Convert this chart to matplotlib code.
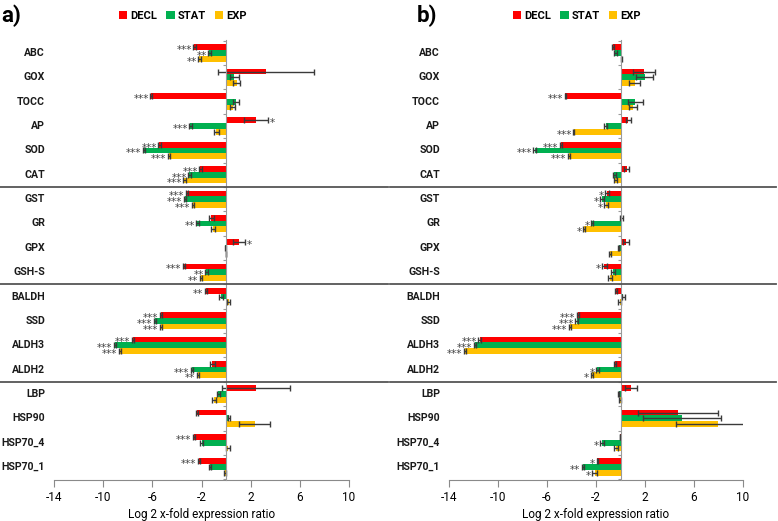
import matplotlib
matplotlib.use("Agg")
import matplotlib.pyplot as plt
import matplotlib.transforms as mtransforms
from matplotlib.patches import Patch

genes = ["ABC", "GOX", "TOCC", "AP", "SOD", "CAT", "GST", "GR", "GPX", "GSH-S",
         "BALDH", "SSD", "ALDH3", "ALDH2", "LBP", "HSP90", "HSP70_4", "HSP70_1"]
series = ["DECL", "STAT", "EXP"]
colors = ["#ff0000", "#00b050", "#ffc000"]

# Panel a)
a_decl = [-2.57, 3.25, -6.10, 2.44, -5.42, -2.09, -3.17, -1.19, 1.03, -3.44,
          -1.63, -5.28, -7.59, -1.14, 2.44, -2.38, -2.63, -2.22]
a_stat = [-1.36, 0.68, 0.80, -2.90, -6.69, -2.98, -3.33, -2.33, -0.05, -1.60,
          -0.43, -5.77, -9.02, -2.79, -0.62, 0.22, -2.00, -1.30]
a_exp = [-2.17, 0.87, 0.54, -0.81, -4.66, -3.39, -2.71, -1.08, 0.0, -2.06,
         0.20, -5.31, -8.62, -2.30, -0.98, 2.33, 0.14, -0.10]
a_decl_err = [0.1, 3.9, 0.05, 1.0, 0.1, 0.1, 0.1, 0.2, 0.5, 0.1,
              0.1, 0.1, 0.1, 0.2, 2.8, 0.1, 0.1, 0.1]
a_stat_err = [0.1, 0.35, 0.25, 0.1, 0.1, 0.1, 0.1, 0.1, 0.05, 0.1,
              0.15, 0.1, 0.1, 0.1, 0.15, 0.1, 0.1, 0.1]
a_exp_err = [0.1, 0.3, 0.2, 0.2, 0.1, 0.1, 0.1, 0.15, 0.0, 0.1,
             0.15, 0.1, 0.1, 0.1, 0.15, 1.25, 0.15, 0.1]
a_decl_sig = ["***", "", "***", "*", "***", "***", "***", "", "*", "***",
              "**", "***", "***", "", "", "", "***", "***"]
a_stat_sig = ["**", "", "", "***", "***", "***", "***", "**", "", "**",
              "", "***", "***", "***", "", "", "", ""]
a_exp_sig = ["**", "", "", "", "***", "***", "***", "", "", "**",
             "", "***", "***", "**", "", "", "", ""]

# Panel b)
b_decl = [-0.63, 1.93, -4.49, 0.63, -4.84, 0.52, -1.12, 0.08, 0.46, -1.31,
          -0.38, -3.46, -11.51, -0.46, 0.87, 4.71, -0.03, -1.90]
b_stat = [-0.41, 1.99, 1.22, -1.22, -7.02, -0.49, -1.50, -2.31, -0.16, -0.63,
          0.24, -3.59, -11.86, -1.88, -0.14, 5.03, -1.50, -3.07]
b_exp = [0.08, 1.15, 1.03, -3.81, -4.19, -0.41, -1.17, -2.97, -0.87, -0.84,
         -0.08, -4.14, -12.70, -2.34, -0.05, 7.95, -0.35, -2.10]
b_decl_err = [0.1, 0.88, 0.05, 0.2, 0.1, 0.2, 0.15, 0.1, 0.25, 0.2,
              0.1, 0.1, 0.1, 0.1, 0.5, 3.27, 0.02, 0.05]
b_stat_err = [0.1, 0.7, 0.6, 0.1, 0.1, 0.15, 0.15, 0.1, 0.05, 0.15,
              0.1, 0.1, 0.1, 0.1, 0.05, 3.18, 0.15, 0.1]
b_exp_err = [0.05, 0.45, 0.35, 0.05, 0.1, 0.15, 0.15, 0.1, 0.1, 0.15,
             0.1, 0.1, 0.1, 0.1, 0.05, 3.4, 0.15, 0.2]
b_decl_sig = ["", "", "***", "", "***", "", "*", "", "", "*",
              "", "***", "***", "", "", "", "", "*"]
b_stat_sig = ["", "", "", "", "***", "", "*", "*", "", "",
              "", "***", "***", "*", "", "", "*", "**"]
b_exp_sig = ["", "", "", "***", "***", "", "*", "*", "", "",
             "", "***", "***", "*", "", "", "", "*"]

xticks = [-14, -10, -6, -2, 2, 6, 10]
separators = [5.5, 9.5, 13.5]

plt.rcParams['font.family'] = ['Roboto', 'DejaVu Sans']

W, H = 778, 521
fig = plt.figure(figsize=(W / 100, H / 100), dpi=100)

def fx(px):
    return px / W

def fy(py):
    return 1 - py / H

panels = [
    dict(left=54, right=349, label="a)", label_x=1, legend_x=183, sep=(0, 388),
         vals=[a_decl, a_stat, a_exp], errs=[a_decl_err, a_stat_err, a_exp_err],
         sigs=[a_decl_sig, a_stat_sig, a_exp_sig]),
    dict(left=449, right=743, label="b)", label_x=417, legend_x=577, sep=(390, 776),
         vals=[b_decl, b_stat, b_exp], errs=[b_decl_err, b_stat_err, b_exp_err],
         sigs=[b_decl_sig, b_stat_sig, b_exp_sig]),
]

top_px, bot_px = 40, 480
bh = 0.235
offsets = [-bh, 0.0, bh]

for p in panels:
    ax = fig.add_axes([fx(p["left"]), fy(bot_px), fx(p["right"] - p["left"]),
                       (bot_px - top_px) / H])
    ax.set_xlim(-14, 10)
    ax.set_ylim(17.53, -0.53)
    ypos = list(range(len(genes)))
    for k in range(3):
        ys = [y + offsets[k] for y in ypos]
        ax.barh(ys, p["vals"][k], height=bh, color=colors[k], zorder=2,
                label=series[k])
        ax.errorbar(p["vals"][k], ys, xerr=p["errs"][k], fmt="none",
                    ecolor="#3a3a3a", elinewidth=1.0, capsize=2.5, capthick=1.0,
                    zorder=3)
        for v, e, s, y in zip(p["vals"][k], p["errs"][k], p["sigs"][k], ys):
            if not s:
                continue
            if v < 0:
                ax.text(v - e - 0.12, y + 0.12, s, ha="right", va="center",
                        fontsize=7.5, color="#444444", family="DejaVu Sans",
                        zorder=4, clip_on=False)
            else:
                ax.text(v + e + 0.12, y + 0.12, s, ha="left", va="center",
                        fontsize=7.5, color="#444444", family="DejaVu Sans",
                        zorder=4, clip_on=False)
    # axes styling
    for sp in ["top", "right"]:
        ax.spines[sp].set_visible(False)
    ax.spines["left"].set_position(("data", 0))
    ax.spines["left"].set_color("#9a9a9a")
    ax.spines["left"].set_zorder(5)
    ax.spines["bottom"].set_color("#8a8a8a")
    ax.set_yticks([i - 0.5 for i in range(len(genes) + 1)])
    ax.set_yticklabels([])
    ax.tick_params(axis="y", length=2.5, color="#9a9a9a", direction="out")
    ax.set_xticks(xticks)
    ax.set_xticklabels([str(t) for t in xticks], fontsize=8.5)
    ax.tick_params(axis="x", length=5, color="#8a8a8a", pad=3)
    ax.set_xlabel("Log 2 x-fold expression ratio", fontsize=8.5, labelpad=3)
    # gene labels
    for i, g in enumerate(genes):
        ax.text(-14.72, i, g, ha="right", va="center", fontsize=7.6,
                fontweight="bold", color="#1a1a1a", clip_on=False)
    # separators
    tr = mtransforms.blended_transform_factory(fig.transFigure, ax.transData)
    for s in separators:
        ax.plot([fx(p["sep"][0]), fx(p["sep"][1])], [s, s], transform=tr,
                color="#555555", lw=1.3, clip_on=False, zorder=6)
    # legend
    handles = [Patch(facecolor=c, edgecolor="none") for c in colors]
    fig.legend(handles, series, loc="center", ncol=3,
               bbox_to_anchor=(fx(p["legend_x"]), fy(16)), frameon=False,
               handlelength=0.75, handleheight=0.75,
               handletextpad=0.3, columnspacing=0.8,
               prop=dict(family="Roboto", weight="bold", size=8))
    fig.text(fx(p["label_x"]), fy(16), p["label"], ha="left", va="center",
             fontsize=16, fontweight="bold")

fig.savefig("out.png", dpi=100)
